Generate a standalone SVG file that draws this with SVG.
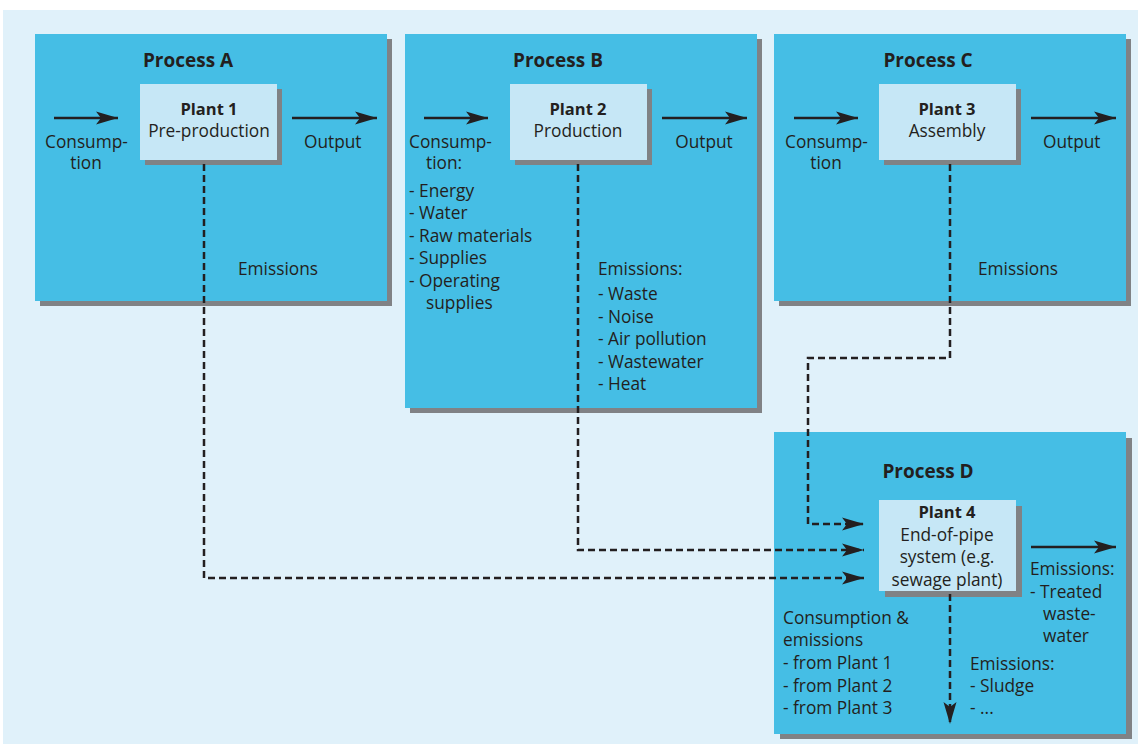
<svg xmlns="http://www.w3.org/2000/svg" width="1138" height="745" viewBox="0 0 1138 745">
<defs>
<marker id="ah" markerUnits="userSpaceOnUse" markerWidth="24" markerHeight="16" viewBox="0 0 24 16" refX="22" refY="8" orient="auto">
<path d="M0,1.5 L22,8 L0,14.5 L5,8 Z" fill="#231f20"/>
</marker>
</defs>
<style>
.bg{fill:#e0f1fa}
.proc{fill:#45bee5}
.shadow{fill:#808285}
.plant{fill:#c6e7f6}
text{font-family:"Open Sans","Noto Sans","DejaVu Sans",sans-serif;fill:#231f20;font-size:17.3px}
.title{font-weight:bold;font-size:19px;text-anchor:middle}
.ptitle{font-weight:bold;font-size:16.5px;text-anchor:middle}
.mid{text-anchor:middle}
.solid{stroke:#231f20;stroke-width:2.5;fill:none;marker-end:url(#ah)}
.dash{stroke:#231f20;stroke-width:2.5;fill:none;stroke-dasharray:7 4;marker-end:url(#ah)}
</style>
<rect class="bg" x="3" y="10" width="1135" height="734"/>

<g id="processA">
<rect class="shadow" x="40" y="39" width="352" height="267"/>
<rect class="proc" x="35" y="34" width="352" height="267"/>
<text class="title" x="188" y="67">Process A</text>
<text x="45" y="148">Consump-</text>
<text class="mid" x="86" y="169">tion</text>
<text x="304" y="148">Output</text>
<text x="238" y="275">Emissions</text>
</g>
<g id="plant1">
<rect class="shadow" x="145" y="89" width="137" height="76"/>
<rect class="plant" x="140" y="84" width="137" height="76"/>
<text class="ptitle" x="209" y="115">Plant 1</text>
<text class="mid" x="209" y="137">Pre-production</text>
</g>

<g id="processB">
<rect class="shadow" x="410" y="39" width="352" height="374"/>
<rect class="proc" x="405" y="34" width="352" height="374"/>
<text class="title" x="558" y="67">Process B</text>
<text x="409" y="148">Consump-</text>
<text x="426" y="169">tion:</text>
<text x="409" y="197">- Energy</text>
<text x="409" y="219">- Water</text>
<text x="409" y="242">- Raw materials</text>
<text x="409" y="264">- Supplies</text>
<text x="409" y="287">- Operating</text>
<text x="426" y="309">supplies</text>
<text x="704" y="148" class="mid">Output</text>
<text x="598" y="275">Emissions:</text>
<text x="598" y="300">- Waste</text>
<text x="598" y="323">- Noise</text>
<text x="598" y="345">- Air pollution</text>
<text x="598" y="368">- Wastewater</text>
<text x="598" y="390">- Heat</text>
</g>
<g id="plant2">
<rect class="shadow" x="515" y="89" width="137" height="76"/>
<rect class="plant" x="510" y="84" width="137" height="76"/>
<text class="ptitle" x="578" y="115">Plant 2</text>
<text class="mid" x="578" y="137">Production</text>
</g>

<g id="processC">
<rect class="shadow" x="779" y="39" width="352" height="267"/>
<rect class="proc" x="774" y="34" width="352" height="267"/>
<text class="title" x="928" y="67">Process C</text>
<text x="785" y="148">Consump-</text>
<text class="mid" x="826" y="169">tion</text>
<text x="1043" y="148">Output</text>
<text x="978" y="275">Emissions</text>
</g>
<g id="plant3">
<rect class="shadow" x="884" y="89" width="137" height="76"/>
<rect class="plant" x="879" y="84" width="137" height="76"/>
<text class="ptitle" x="947" y="115">Plant 3</text>
<text class="mid" x="947" y="137">Assembly</text>
</g>

<g id="processD">
<rect class="shadow" x="780" y="438" width="352" height="301"/>
<rect class="proc" x="774" y="432" width="352" height="302"/>
<text class="title" x="928" y="478">Process D</text>
<text x="1030" y="575">Emissions:</text>
<text x="1030" y="598">- Treated</text>
<text x="1043" y="620">waste-</text>
<text x="1043" y="642">water</text>
<text x="783" y="624">Consumption &amp;</text>
<text x="783" y="646">emissions</text>
<text x="783" y="669">- from Plant 1</text>
<text x="783" y="692">- from Plant 2</text>
<text x="783" y="714">- from Plant 3</text>
<text x="970" y="670">Emissions:</text>
<text x="970" y="692">- Sludge</text>
<text x="970" y="714">- ...</text>
</g>
<g id="plant4">
<rect class="shadow" x="885" y="506" width="137" height="91"/>
<rect class="plant" x="879" y="500" width="137" height="91"/>
<text class="ptitle" x="947" y="518">Plant 4</text>
<text class="mid" x="947" y="541">End-of-pipe</text>
<text class="mid" x="947" y="563">system (e.g.</text>
<text class="mid" x="947" y="586">sewage plant)</text>
</g>

<g id="connectors">
<line class="solid" x1="54" y1="118" x2="118" y2="118"/>
<line class="solid" x1="292" y1="118" x2="377" y2="118"/>
<line class="solid" x1="424" y1="118" x2="488" y2="118"/>
<line class="solid" x1="662" y1="118" x2="747" y2="118"/>
<line class="solid" x1="794" y1="118" x2="858" y2="118"/>
<line class="solid" x1="1031" y1="118" x2="1116" y2="118"/>
<line class="solid" x1="1031" y1="547" x2="1116" y2="547"/>
<path class="dash" d="M204,164 V578 H864"/>
<path class="dash" d="M578,164 V550 H864"/>
<path class="dash" d="M950,164 V358 H808 V524 H864"/>
<path class="dash" d="M950,594 V724"/>
</g>
</svg>
